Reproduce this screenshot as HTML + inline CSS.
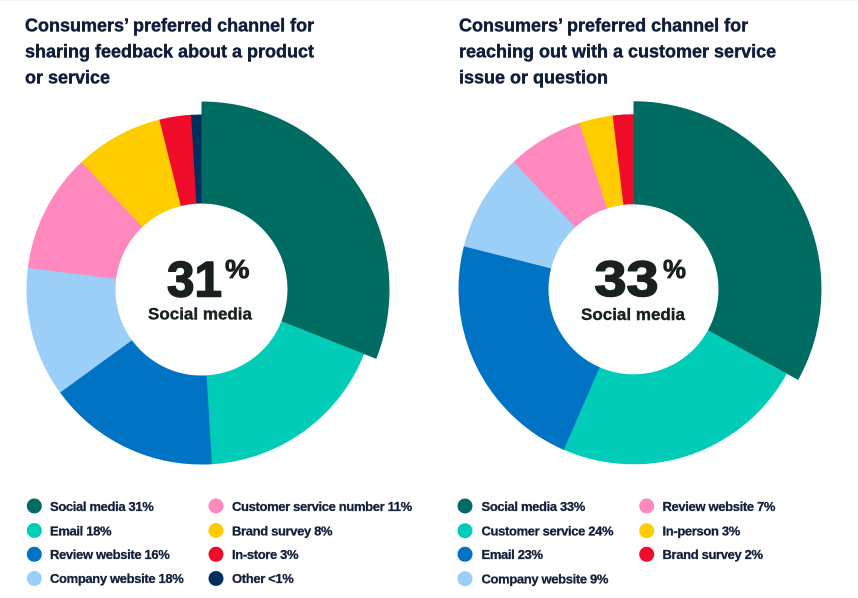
<!DOCTYPE html>
<html>
<head>
<meta charset="utf-8">
<style>
  html, body { margin: 0; padding: 0; background: #ffffff; }
  body { width: 858px; height: 598px; overflow: hidden; }
  svg { display: block; }
  .title { font-family: "Liberation Sans", Arial, sans-serif; font-weight: bold; font-size: 18px; fill: #0f1d38; stroke: #0f1d38; stroke-width: 0.45px; }
  .big { font-family: "Liberation Sans", Arial, sans-serif; font-weight: bold; fill: #18211f; stroke: #18211f; stroke-width: 1.6px; stroke-linejoin: round; }
  .pct { font-family: "Liberation Sans", Arial, sans-serif; font-weight: bold; fill: #18211f; stroke: #18211f; stroke-width: 0.8px; }
  .lbl { font-family: "Liberation Sans", Arial, sans-serif; font-weight: bold; font-size: 17px; fill: #18211f; stroke: #18211f; stroke-width: 0.4px; }
  .leg { font-family: "Liberation Sans", Arial, sans-serif; font-weight: bold; font-size: 13px; fill: #12213a; stroke: #12213a; stroke-width: 0.3px; letter-spacing: -0.35px; }
</style>
</head>
<body>
<svg width="858" height="598" viewBox="0 0 858 598" xmlns="http://www.w3.org/2000/svg">
  <rect x="0" y="0" width="858" height="598" fill="#ffffff"/>
  <rect x="0" y="0" width="858" height="1" fill="#f3f3f3"/>

  <!-- Titles -->
  <text class="title" x="25" y="31.5">Consumers’ preferred channel for</text>
  <text class="title" x="25" y="57.5">sharing feedback about a product</text>
  <text class="title" x="25" y="83.5">or service</text>

  <text class="title" x="459" y="31.5">Consumers’ preferred channel for</text>
  <text class="title" x="459" y="57.5">reaching out with a customer service</text>
  <text class="title" x="459" y="83.5">issue or question</text>

  <!-- LEFT DONUT -->
  <g transform="rotate(-90 201.5 289.5)" fill="none">
    <circle cx="201.5" cy="289.5" r="130.5" stroke="#00ccb8" stroke-width="89" stroke-dasharray="148.4 900" stroke-dashoffset="-254.19"/>
    <circle cx="201.5" cy="289.5" r="130.5" stroke="#0073c4" stroke-width="89" stroke-dasharray="131.1 900" stroke-dashoffset="-402.01"/>
    <circle cx="201.5" cy="289.5" r="130.5" stroke="#9bcff7" stroke-width="89" stroke-dasharray="99.0 900" stroke-dashoffset="-532.52"/>
    <circle cx="201.5" cy="289.5" r="130.5" stroke="#ff88bf" stroke-width="89" stroke-dasharray="90.5 900" stroke-dashoffset="-630.91"/>
    <circle cx="201.5" cy="289.5" r="130.5" stroke="#ffcc00" stroke-width="89" stroke-dasharray="67.5 900" stroke-dashoffset="-720.88"/>
    <circle cx="201.5" cy="289.5" r="130.5" stroke="#ef0c2b" stroke-width="89" stroke-dasharray="24.4 900" stroke-dashoffset="-787.85"/>
    <circle cx="201.5" cy="289.5" r="130.5" stroke="#002f5e" stroke-width="89" stroke-dasharray="8.4 900" stroke-dashoffset="-811.77"/>
    <circle cx="201.5" cy="289.5" r="137" stroke="#006c61" stroke-width="102" stroke-dasharray="266.85 1000" stroke-dashoffset="0"/>
  </g>

  <text class="big" x="167" y="296.5" font-size="50" textLength="55" lengthAdjust="spacingAndGlyphs">31</text>
  <text class="pct" x="225" y="278" font-size="26" textLength="24.5" lengthAdjust="spacingAndGlyphs">%</text>
  <text class="lbl" x="200" y="319.5" text-anchor="middle">Social media</text>

  <!-- RIGHT DONUT -->
  <g transform="rotate(-90 633.5 289.3)" fill="none">
    <circle cx="633.5" cy="289.3" r="130" stroke="#00ccb8" stroke-width="90" stroke-dasharray="192.5 900" stroke-dashoffset="-269.55"/>
    <circle cx="633.5" cy="289.3" r="130" stroke="#0073c4" stroke-width="90" stroke-dasharray="183.6 900" stroke-dashoffset="-461.50"/>
    <circle cx="633.5" cy="289.3" r="130" stroke="#9bcff7" stroke-width="90" stroke-dasharray="74.3 900" stroke-dashoffset="-644.60"/>
    <circle cx="633.5" cy="289.3" r="130" stroke="#ff88bf" stroke-width="90" stroke-dasharray="57.7 900" stroke-dashoffset="-718.34"/>
    <circle cx="633.5" cy="289.3" r="130" stroke="#ffcc00" stroke-width="90" stroke-dasharray="25.9 900" stroke-dashoffset="-775.52"/>
    <circle cx="633.5" cy="289.3" r="130" stroke="#ef0c2b" stroke-width="90" stroke-dasharray="16.2 900" stroke-dashoffset="-800.92"/>
    <circle cx="633.5" cy="289.3" r="136.5" stroke="#006c61" stroke-width="103" stroke-dasharray="283.02 1000" stroke-dashoffset="0"/>
  </g>

  <text class="big" x="594.5" y="296" font-size="50" textLength="64" lengthAdjust="spacingAndGlyphs">33</text>
  <text class="pct" x="663" y="278" font-size="26" textLength="23" lengthAdjust="spacingAndGlyphs">%</text>
  <text class="lbl" x="633" y="320" text-anchor="middle">Social media</text>

  <!-- LEFT LEGEND -->
  <circle cx="34.3" cy="506" r="7.5" fill="#006c61"/>
  <circle cx="34.3" cy="530.5" r="7.5" fill="#00ccb8"/>
  <circle cx="34.3" cy="554.3" r="7.5" fill="#0073c4"/>
  <circle cx="34.3" cy="578.5" r="7.5" fill="#9bcff7"/>
  <text class="leg" x="50" y="511">Social media 31%</text>
  <text class="leg" x="50" y="535.3">Email 18%</text>
  <text class="leg" x="50" y="559">Review website 16%</text>
  <text class="leg" x="50" y="583">Company website 18%</text>

  <circle cx="216" cy="506" r="7.5" fill="#ff88bf"/>
  <circle cx="216" cy="530.5" r="7.5" fill="#ffcc00"/>
  <circle cx="216" cy="554.3" r="7.5" fill="#ef0c2b"/>
  <circle cx="216" cy="578.5" r="7.5" fill="#002f5e"/>
  <text class="leg" x="232" y="511">Customer service number 11%</text>
  <text class="leg" x="232" y="535.3">Brand survey 8%</text>
  <text class="leg" x="232" y="559">In-store 3%</text>
  <text class="leg" x="232" y="583">Other &lt;1%</text>

  <!-- RIGHT LEGEND -->
  <circle cx="465" cy="506" r="7.5" fill="#006c61"/>
  <circle cx="465" cy="530.7" r="7.5" fill="#00ccb8"/>
  <circle cx="465" cy="554.3" r="7.5" fill="#0073c4"/>
  <circle cx="465" cy="578.7" r="7.5" fill="#9bcff7"/>
  <text class="leg" x="481.5" y="511">Social media 33%</text>
  <text class="leg" x="481.5" y="535.5">Customer service 24%</text>
  <text class="leg" x="481.5" y="559">Email 23%</text>
  <text class="leg" x="481.5" y="583.3">Company website 9%</text>

  <circle cx="646.7" cy="506" r="7.5" fill="#ff88bf"/>
  <circle cx="646.7" cy="530.7" r="7.5" fill="#ffcc00"/>
  <circle cx="646.7" cy="554.3" r="7.5" fill="#ef0c2b"/>
  <text class="leg" x="662.5" y="511">Review website 7%</text>
  <text class="leg" x="662.5" y="535.5">In-person 3%</text>
  <text class="leg" x="662.5" y="559">Brand survey 2%</text>
</svg>
</body>
</html>
